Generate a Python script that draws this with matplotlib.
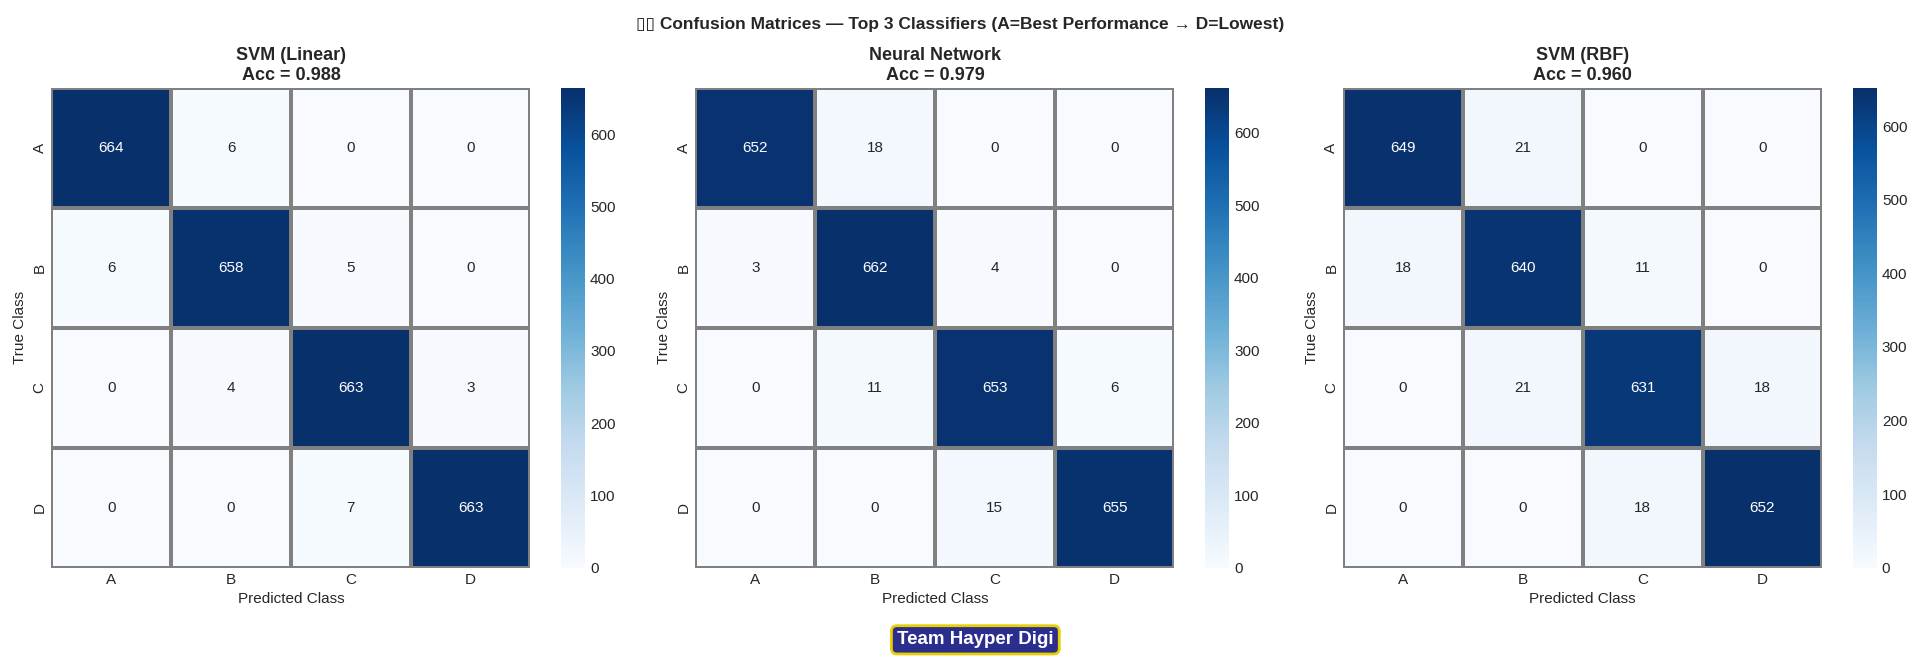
import matplotlib
matplotlib.use("Agg")
import matplotlib.pyplot as plt
import seaborn as sns
import numpy as np

# ---- data ----
classes = ["A", "B", "C", "D"]
model_names = ["SVM (Linear)", "Neural Network", "SVM (RBF)"]
accuracies = [0.988, 0.979, 0.960]
cm_svm_linear = [[664, 6, 0, 0],
                 [6, 658, 5, 0],
                 [0, 4, 663, 3],
                 [0, 0, 7, 663]]
cm_neural_net = [[652, 18, 0, 0],
                 [3, 662, 4, 0],
                 [0, 11, 653, 6],
                 [0, 0, 15, 655]]
cm_svm_rbf = [[649, 21, 0, 0],
              [18, 640, 11, 0],
              [0, 21, 631, 18],
              [0, 0, 18, 652]]
matrices = [cm_svm_linear, cm_neural_net, cm_svm_rbf]
suptitle_text = "\u25AF\u25AF Confusion Matrices \u2014 Top 3 Classifiers (A=Best Performance \u2192 D=Lowest)"
badge_text = "Team Hayper Digi"
cbar_ticks = [0, 100, 200, 300, 400, 500, 600]

sns.set_theme(style="whitegrid")
plt.rcParams["font.family"] = ["Liberation Sans", "DejaVu Sans"]

fig = plt.figure(figsize=(19.2, 6.61), dpi=100)

hm_lefts = [0.0268, 0.3622, 0.6996]
hm_width = 0.2495
cb_gap = 0.016
cb_width = 0.0125
bottom, height = 0.141, 0.726

for i, (cm, name, acc) in enumerate(zip(matrices, model_names, accuracies)):
    ax = fig.add_axes([hm_lefts[i], bottom, hm_width, height])
    cax = fig.add_axes([hm_lefts[i] + hm_width + cb_gap, bottom, cb_width, height])
    sns.heatmap(np.array(cm), annot=True, fmt="d", cmap="Blues",
                xticklabels=classes, yticklabels=classes,
                linewidths=1.5, linecolor="gray", ax=ax, cbar_ax=cax,
                annot_kws={"fontsize": 11})
    ax.set_title(f"{name}\nAcc = {acc:.3f}", fontsize=13, fontweight="bold", pad=6)
    ax.set_xlabel("Predicted Class", fontsize=11)
    ax.set_ylabel("True Class", fontsize=11)
    ax.tick_params(axis="both", labelsize=11, length=0)
    plt.setp(ax.get_yticklabels(), rotation=90, va="center")
    plt.setp(ax.get_xticklabels(), rotation=0)
    cax.tick_params(labelsize=11, length=0)
    cax.set_yticks(cbar_ticks)

fig.suptitle(suptitle_text, fontsize=12.5, fontweight="bold", y=0.975)

fig.text(0.508, 0.032, badge_text, ha="center", va="center", fontsize=13.5,
         fontweight="bold", color="white",
         bbox=dict(boxstyle="round,pad=0.3", fc="#2b2e8c", ec="#e8d000", lw=2))

fig.savefig("out.png", dpi=100)
